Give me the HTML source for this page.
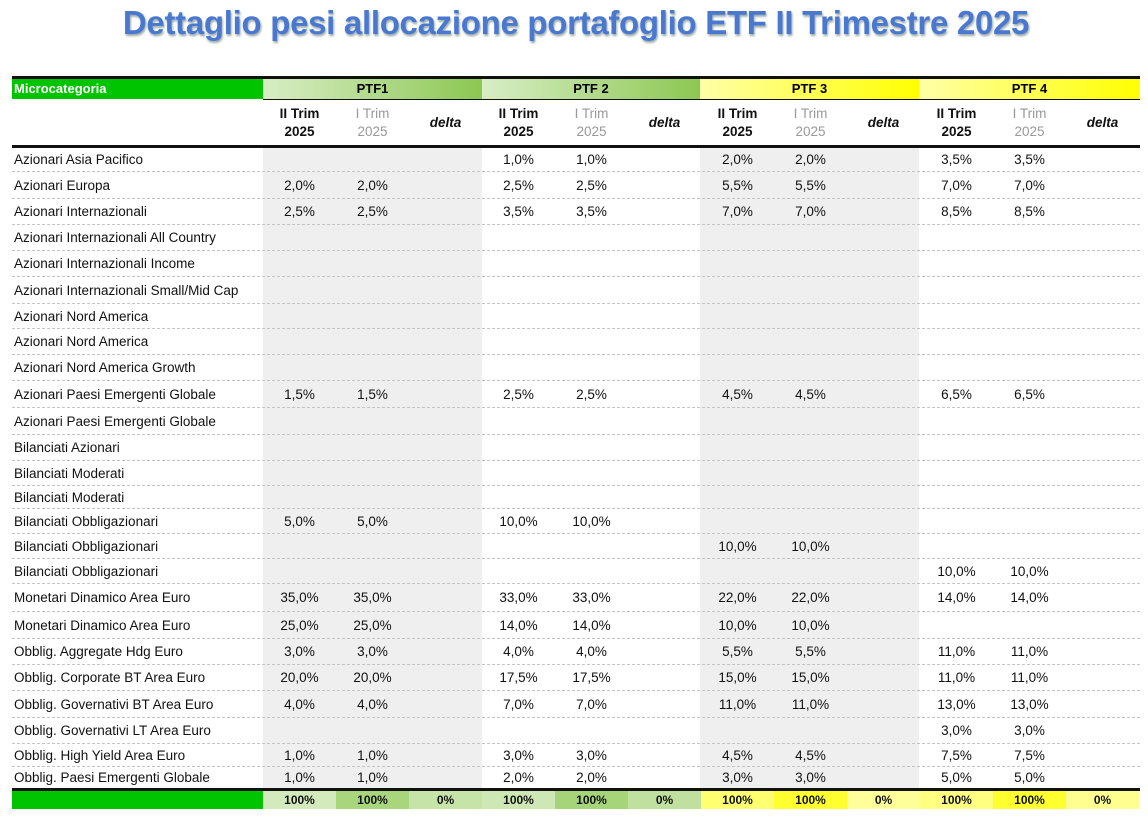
<!DOCTYPE html>
<html><head><meta charset="utf-8"><style>
body{margin:0;width:1148px;height:821px;background:#fff;position:relative;overflow:hidden;font-family:"Liberation Sans",Arial,sans-serif;}
.t{position:absolute;left:0;width:1152px;top:4px;text-align:center;font-size:33px;font-weight:bold;color:#4a78d0;text-shadow:1px 2px 2px #9aa;letter-spacing:-0.3px}
.a{position:absolute}
.row{position:absolute;left:12px;width:1128px;display:grid;grid-template-columns:251px repeat(12,73px);border-bottom:1px dashed #c4c4c4;align-items:center;font-size:13.5px;color:#111}
.row div{text-align:center}
.row div:first-child{text-align:left;padding-left:2px}
</style></head><body>
<div class="t">Dettaglio pesi allocazione portafoglio ETF II Trimestre 2025</div>
<div class="a" style="left:263px;top:147px;width:219px;height:641px;background:#efefef"></div>
<div class="a" style="left:700px;top:147px;width:219px;height:641px;background:#efefef"></div>
<div class="a" style="left:12px;top:76px;width:1128px;height:3px;background:#111"></div>
<div class="a" style="left:12px;top:79px;width:251px;height:20px;background:#00c400;color:#fff;font-weight:bold;font-size:13px;line-height:20px;padding-left:2px;box-sizing:border-box">Microcategoria</div>
<div class="a" style="left:263px;top:79px;width:219px;height:20px;background:linear-gradient(90deg,#d8eec6,#8cc752);font-weight:bold;font-size:13px;line-height:20px;text-align:center">PTF1</div>
<div class="a" style="left:482px;top:79px;width:218px;height:20px;background:linear-gradient(90deg,#d8eec6,#8cc752);font-weight:bold;font-size:13px;line-height:20px;text-align:center">PTF 2</div>
<div class="a" style="left:700px;top:79px;width:219px;height:20px;background:linear-gradient(90deg,#ffffa8,#ffff00);font-weight:bold;font-size:13px;line-height:20px;text-align:center">PTF 3</div>
<div class="a" style="left:919px;top:79px;width:221px;height:20px;background:linear-gradient(90deg,#ffffa8,#ffff00);font-weight:bold;font-size:13px;line-height:20px;text-align:center">PTF 4</div>
<div class="a" style="left:263px;top:99px;width:877px;height:1px;background:#111"></div>
<div class="row" style="top:101px;height:44px;border-bottom:none;font-size:13.5px;line-height:18px">
<div></div>
<div><b>II Trim<br>2025</b></div><div style="color:#999">I Trim<br>2025</div><div><b><i>delta</i></b></div>
<div><b>II Trim<br>2025</b></div><div style="color:#999">I Trim<br>2025</div><div><b><i>delta</i></b></div>
<div><b>II Trim<br>2025</b></div><div style="color:#999">I Trim<br>2025</div><div><b><i>delta</i></b></div>
<div><b>II Trim<br>2025</b></div><div style="color:#999">I Trim<br>2025</div><div><b><i>delta</i></b></div>
</div>
<div class="a" style="left:12px;top:145px;width:1128px;height:3px;background:#111"></div>

<div class="row" style="top:148px;height:23px"><div>Azionari Asia Pacifico</div><div></div><div></div><div></div><div>1,0%</div><div>1,0%</div><div></div><div>2,0%</div><div>2,0%</div><div></div><div>3,5%</div><div>3,5%</div><div></div></div>
<div class="row" style="top:172px;height:26px"><div>Azionari Europa</div><div>2,0%</div><div>2,0%</div><div></div><div>2,5%</div><div>2,5%</div><div></div><div>5,5%</div><div>5,5%</div><div></div><div>7,0%</div><div>7,0%</div><div></div></div>
<div class="row" style="top:199px;height:25px"><div>Azionari Internazionali</div><div>2,5%</div><div>2,5%</div><div></div><div>3,5%</div><div>3,5%</div><div></div><div>7,0%</div><div>7,0%</div><div></div><div>8,5%</div><div>8,5%</div><div></div></div>
<div class="row" style="top:225px;height:25px"><div>Azionari Internazionali All Country</div></div>
<div class="row" style="top:251px;height:25px"><div>Azionari Internazionali Income</div></div>
<div class="row" style="top:277px;height:26px"><div>Azionari Internazionali Small/Mid Cap</div></div>
<div class="row" style="top:304px;height:24px"><div>Azionari Nord America</div></div>
<div class="row" style="top:329px;height:25px"><div>Azionari Nord America</div></div>
<div class="row" style="top:355px;height:25px"><div>Azionari Nord America Growth</div></div>
<div class="row" style="top:381px;height:26px"><div>Azionari Paesi Emergenti Globale</div><div>1,5%</div><div>1,5%</div><div></div><div>2,5%</div><div>2,5%</div><div></div><div>4,5%</div><div>4,5%</div><div></div><div>6,5%</div><div>6,5%</div><div></div></div>
<div class="row" style="top:408px;height:26px"><div>Azionari Paesi Emergenti Globale</div></div>
<div class="row" style="top:435px;height:25px"><div>Bilanciati Azionari</div></div>
<div class="row" style="top:461px;height:24px"><div>Bilanciati Moderati</div></div>
<div class="row" style="top:486px;height:22px"><div>Bilanciati Moderati</div></div>
<div class="row" style="top:509px;height:24px"><div>Bilanciati Obbligazionari</div><div>5,0%</div><div>5,0%</div><div></div><div>10,0%</div><div>10,0%</div><div></div></div>
<div class="row" style="top:534px;height:24px"><div>Bilanciati Obbligazionari</div><div></div><div></div><div></div><div></div><div></div><div></div><div>10,0%</div><div>10,0%</div><div></div></div>
<div class="row" style="top:559px;height:24px"><div>Bilanciati Obbligazionari</div><div></div><div></div><div></div><div></div><div></div><div></div><div></div><div></div><div></div><div>10,0%</div><div>10,0%</div><div></div></div>
<div class="row" style="top:584px;height:27px"><div>Monetari Dinamico Area Euro</div><div>35,0%</div><div>35,0%</div><div></div><div>33,0%</div><div>33,0%</div><div></div><div>22,0%</div><div>22,0%</div><div></div><div>14,0%</div><div>14,0%</div><div></div></div>
<div class="row" style="top:612px;height:26px"><div>Monetari Dinamico Area Euro</div><div>25,0%</div><div>25,0%</div><div></div><div>14,0%</div><div>14,0%</div><div></div><div>10,0%</div><div>10,0%</div><div></div></div>
<div class="row" style="top:639px;height:25px"><div>Obblig. Aggregate Hdg Euro</div><div>3,0%</div><div>3,0%</div><div></div><div>4,0%</div><div>4,0%</div><div></div><div>5,5%</div><div>5,5%</div><div></div><div>11,0%</div><div>11,0%</div><div></div></div>
<div class="row" style="top:665px;height:25px"><div>Obblig. Corporate BT Area Euro</div><div>20,0%</div><div>20,0%</div><div></div><div>17,5%</div><div>17,5%</div><div></div><div>15,0%</div><div>15,0%</div><div></div><div>11,0%</div><div>11,0%</div><div></div></div>
<div class="row" style="top:691px;height:26px"><div>Obblig. Governativi BT Area Euro</div><div>4,0%</div><div>4,0%</div><div></div><div>7,0%</div><div>7,0%</div><div></div><div>11,0%</div><div>11,0%</div><div></div><div>13,0%</div><div>13,0%</div><div></div></div>
<div class="row" style="top:718px;height:25px"><div>Obblig. Governativi LT Area Euro</div><div></div><div></div><div></div><div></div><div></div><div></div><div></div><div></div><div></div><div>3,0%</div><div>3,0%</div><div></div></div>
<div class="row" style="top:744px;height:22px"><div>Obblig. High Yield Area Euro</div><div>1,0%</div><div>1,0%</div><div></div><div>3,0%</div><div>3,0%</div><div></div><div>4,5%</div><div>4,5%</div><div></div><div>7,5%</div><div>7,5%</div><div></div></div>
<div class="row" style="top:767px;height:21px;border-bottom:none"><div>Obblig. Paesi Emergenti Globale</div><div>1,0%</div><div>1,0%</div><div></div><div>2,0%</div><div>2,0%</div><div></div><div>3,0%</div><div>3,0%</div><div></div><div>5,0%</div><div>5,0%</div><div></div></div>

<div class="a" style="left:12px;top:788px;width:1128px;height:3px;background:#111"></div>
<div class="row" style="top:791px;height:18px;border-bottom:none;font-weight:bold;font-size:12px">
<div style="background:#00c400;height:18px"></div>
<div style="background:#d2eabc;line-height:18px">100%</div><div style="background:#a9d67c;line-height:18px">100%</div><div style="background:#c6e4a8;line-height:18px">0%</div>
<div style="background:#cde8b4;line-height:18px">100%</div><div style="background:#a6d478;line-height:18px">100%</div><div style="background:#bfe09e;line-height:18px">0%</div>
<div style="background:#ffff70;line-height:18px">100%</div><div style="background:#ffff30;line-height:18px">100%</div><div style="background:#ffff9a;line-height:18px">0%</div>
<div style="background:#ffff80;line-height:18px">100%</div><div style="background:#ffff30;line-height:18px">100%</div><div style="background:#ffff90;line-height:18px">0%</div>
</div>
</body></html>
